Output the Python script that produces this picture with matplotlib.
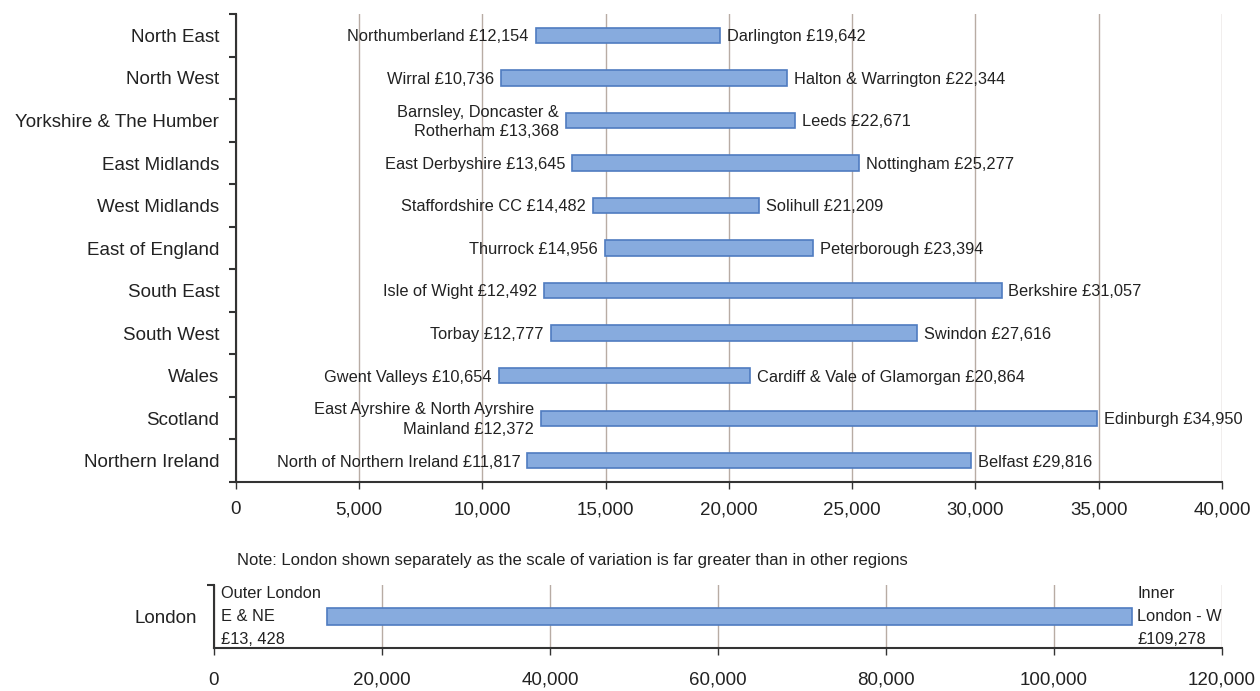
import matplotlib.pyplot as plt
import numpy as np

plt.rcParams['font.family'] = ['Liberation Sans', 'DejaVu Sans']

regions = ['North East', 'North West', 'Yorkshire & The Humber', 'East Midlands',
           'West Midlands', 'East of England', 'South East', 'South West',
           'Wales', 'Scotland', 'Northern Ireland']
low_names = ['Northumberland £12,154', 'Wirral £10,736', 'Barnsley, Doncaster &\nRotherham £13,368',
             'East Derbyshire £13,645', 'Staffordshire CC £14,482', 'Thurrock £14,956',
             'Isle of Wight £12,492', 'Torbay £12,777', 'Gwent Valleys £10,654',
             'East Ayrshire & North Ayrshire\nMainland £12,372', 'North of Northern Ireland £11,817']
low_vals = [12154, 10736, 13368, 13645, 14482, 14956, 12492, 12777, 10654, 12372, 11817]
high_names = ['Darlington £19,642', 'Halton & Warrington £22,344', 'Leeds £22,671',
              'Nottingham £25,277', 'Solihull £21,209', 'Peterborough £23,394',
              'Berkshire £31,057', 'Swindon £27,616', 'Cardiff & Vale of Glamorgan £20,864',
              'Edinburgh £34,950', 'Belfast £29,816']
high_vals = [19642, 22344, 22671, 25277, 21209, 23394, 31057, 27616, 20864, 34950, 29816]

london_low_name = 'Outer London\nE & NE\n£13, 428'
london_low = 13428
london_high_name = 'Inner\nLondon - W\n£109,278'
london_high = 109278

bar_face = '#87abde'
bar_edge = '#4f7cc0'
grid_col = '#b8aca4'
text_col = '#222222'

fig = plt.figure(figsize=(12.6, 6.91), dpi=100)

# main chart
ax = fig.add_axes([0.1873, 0.3025, 0.7825, 0.677])
y = np.arange(len(regions))
ax.barh(y, np.array(high_vals) - np.array(low_vals), left=low_vals, height=0.36,
        color=bar_face, edgecolor=bar_edge, linewidth=1.2, zorder=3)
for i in range(len(regions)):
    ax.annotate(low_names[i], (low_vals[i], y[i]), xytext=(-5, -1), textcoords='offset points',
                ha='right', va='center', fontsize=11.8, color=text_col, linespacing=1.35)
    ax.annotate(high_names[i], (high_vals[i], y[i]), xytext=(5, -1), textcoords='offset points',
                ha='left', va='center', fontsize=11.8, color=text_col)

ax.set_xlim(0, 40000)
ax.set_ylim(len(regions) - 0.5, -0.5)
ax.set_xticks(np.arange(0, 40001, 5000))
ax.set_xticklabels([f'{v:,}' for v in range(0, 40001, 5000)], fontsize=13.5, color=text_col)
ax.set_yticks(y)
ax.set_yticklabels(regions, fontsize=13.5, color=text_col)
ax.tick_params(axis='y', length=0, pad=12)
ax.set_yticks(np.arange(-0.5, len(regions)), minor=True)
ax.tick_params(axis='y', which='minor', length=5, width=1.5, color='#333333')
ax.tick_params(axis='x', length=5, width=1, color='#333333', pad=9)
ax.grid(axis='x', color=grid_col, linewidth=1, zorder=0)
for s in ['top', 'right']:
    ax.spines[s].set_visible(False)
for s in ['left', 'bottom']:
    ax.spines[s].set_color('#333333')
    ax.spines[s].set_linewidth(1.5)

fig.text(237 / 1260, 1 - 560 / 691, 'Note: London shown separately as the scale of variation is far greater than in other regions',
         fontsize=12, color=text_col, va='center', ha='left')

# London chart
ax2 = fig.add_axes([0.1698, 0.0622, 0.8, 0.0912])
ax2.barh([0], [london_high - london_low], left=[london_low], height=0.27,
         color=bar_face, edgecolor=bar_edge, linewidth=1.2, zorder=3)
ax2.text(800, 0, london_low_name, ha='left', va='center', fontsize=11.8,
         color=text_col, linespacing=1.7)
ax2.annotate(london_high_name, (london_high, 0), xytext=(4, 0), textcoords='offset points',
             ha='left', va='center', fontsize=11.8, color=text_col, linespacing=1.7)
ax2.set_xlim(0, 120000)
ax2.set_ylim(-0.5, 0.5)
ax2.set_xticks(np.arange(0, 120001, 20000))
ax2.set_xticklabels([f'{v:,}' for v in range(0, 120001, 20000)], fontsize=13.5, color=text_col)
ax2.set_yticks([0])
ax2.set_yticklabels(['London'], fontsize=13.5, color=text_col)
ax2.tick_params(axis='y', length=0, pad=12)
ax2.set_yticks([0.5], minor=True)
ax2.tick_params(axis='y', which='minor', length=5, width=1.5, color='#333333')
ax2.tick_params(axis='x', length=5, width=1, color='#333333', pad=12)
ax2.grid(axis='x', color=grid_col, linewidth=1, zorder=0)
for s in ['top', 'right']:
    ax2.spines[s].set_visible(False)
for s in ['left', 'bottom']:
    ax2.spines[s].set_color('#333333')
    ax2.spines[s].set_linewidth(1.5)

fig.savefig('out.png', dpi=100)
